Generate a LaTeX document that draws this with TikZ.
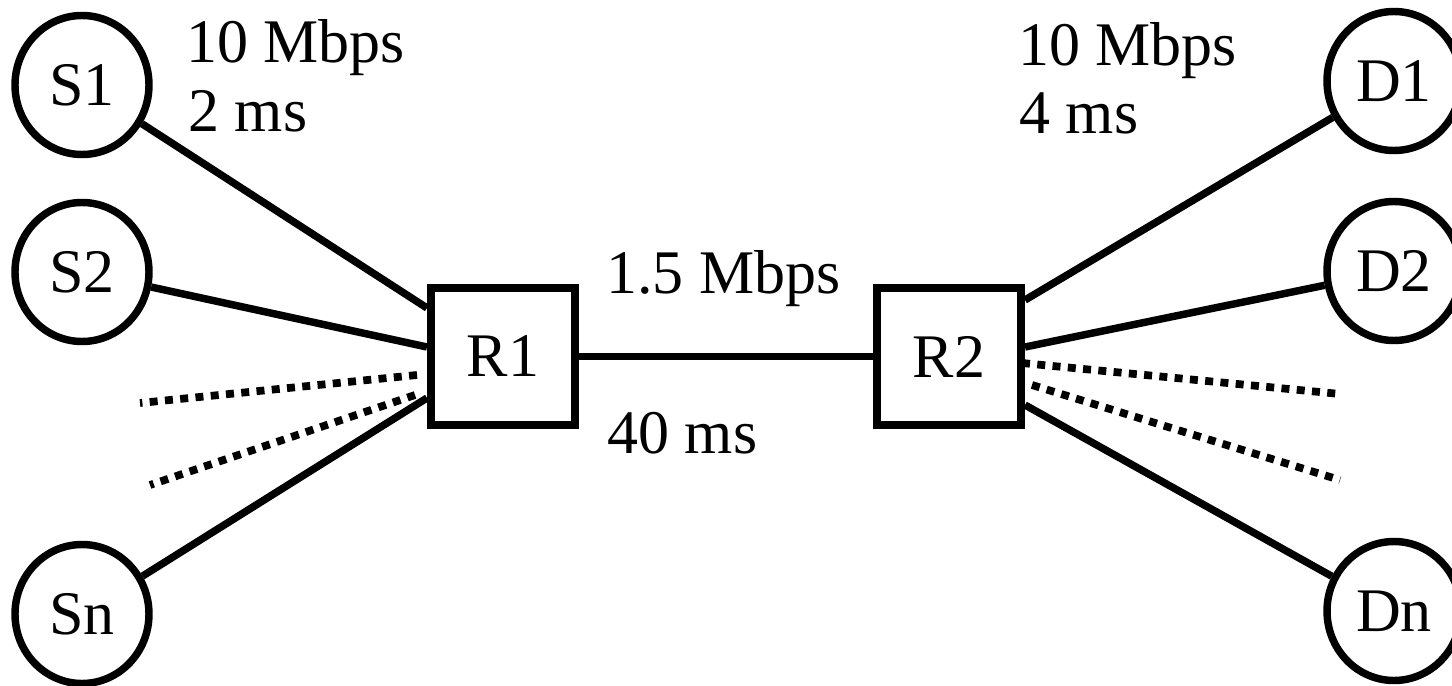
\documentclass[tikz,border=0pt]{standalone}
\usepackage{fontspec}
\setmainfont{Liberation Serif}
\usetikzlibrary{calc,shapes.geometric}
\begin{document}
\begin{tikzpicture}[x=0.75pt,y=-0.75pt,
  txt/.style={font=\fontsize{46.5}{46.5}\selectfont},
  host/.style={ellipse,draw,line width=5.6pt,minimum width=100.5pt,minimum height=104.25pt,inner sep=0pt,txt},
  router/.style={rectangle,draw,line width=6pt,minimum width=108pt,minimum height=102.75pt,inner sep=0pt,txt},
  link/.style={line width=5.6pt},
  dots/.style={line width=5.8pt,dash pattern=on 6pt off 5.5pt},
  lbl/.style={anchor=base west,inner sep=0pt,txt}]
\useasboundingbox (0,0) rectangle (1452,685);

\node[host] (S1) at (82,85) {S1};
\node[host] (S2) at (82,272) {S2};
\node[host] (Sn) at (82,614) {Sn};
\node[host] (D1) at (1394,81) {D1};
\node[host] (D2) at (1394,271) {D2};
\node[host] (Dn) at (1394,611) {Dn};
\node[router] (R1) at (503,356.5) {R1};
\node[router] (R2) at (949,356.5) {R2};

\coordinate (r1a) at ($(R1.west)+(0,-48.5)$);
\coordinate (r1b) at ($(R1.west)+(0,-9.5)$);
\coordinate (r1n) at ($(R1.west)+(0,41.5)$);
\coordinate (r2a) at ($(R2.east)+(0,-56.5)$);
\coordinate (r2b) at ($(R2.east)+(0,-9.5)$);
\coordinate (r2n) at ($(R2.east)+(0,48.5)$);

\coordinate (ld1s) at (140,403); \coordinate (ld1e) at (417,375);
\coordinate (ld2s) at (150,485); \coordinate (ld2e) at (415,395);
\coordinate (rd1s) at (1022,363); \coordinate (rd1e) at (1340,394);
\coordinate (rd2s) at (1032,385); \coordinate (rd2e) at (1340,480);

\draw[link] (S1) -- (r1a);
\draw[link] (S2) -- (r1b);
\draw[link] (Sn) -- (r1n);
\draw[link] (R1) -- (R2);
\draw[link] (r2a) -- (D1);
\draw[link] (r2b) -- (D2);
\draw[link] (r2n) -- (Dn);

\draw[dots] (ld1e) -- (ld1s);
\draw[dots] (ld2e) -- (ld2s);
\draw[dots] (rd1s) -- (rd1e);
\draw[dots] (rd2s) -- (rd2e);

\node[lbl] (l1) at (186,63) {10 Mbps};
\node[lbl] (l2) at (188,131) {2 ms};
\node[lbl] (l3) at (1018,65) {10 Mbps};
\node[lbl] (l4) at (1019,133) {4 ms};
\node[lbl] (l5) at (606,293) {1.5 Mbps};
\node[lbl] (l6) at (607,453) {40 ms};
\end{tikzpicture}
\end{document}
